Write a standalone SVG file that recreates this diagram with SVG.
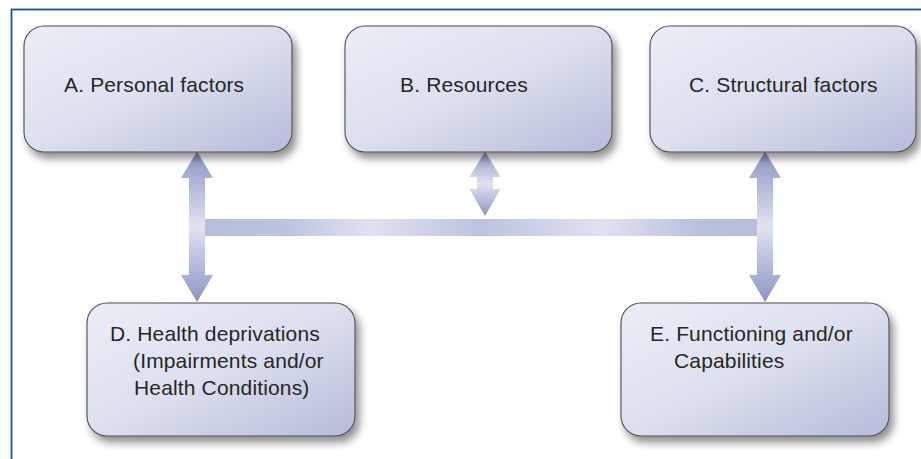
<svg xmlns="http://www.w3.org/2000/svg" width="921" height="459" viewBox="0 0 921 459">
<defs>
<linearGradient id="boxg" x1="0" y1="0" x2="1" y2="1">
<stop offset="0" stop-color="#eceef6"/>
<stop offset="0.5" stop-color="#dcdfee"/>
<stop offset="1" stop-color="#b6bcda"/>
</linearGradient>
<linearGradient id="vg" x1="0" y1="0" x2="0" y2="1">
<stop offset="0" stop-color="#8c95c3"/>
<stop offset="0.18" stop-color="#aab1d6"/>
<stop offset="0.5" stop-color="#e0e3f0"/>
<stop offset="0.82" stop-color="#aab1d6"/>
<stop offset="1" stop-color="#8c95c3"/>
</linearGradient>
<linearGradient id="hg" x1="0" y1="0" x2="1" y2="0">
<stop offset="0" stop-color="#b7bddb"/>
<stop offset="0.14" stop-color="#bcc2df"/>
<stop offset="0.3" stop-color="#dfe2ef"/>
<stop offset="0.5" stop-color="#bec3df"/>
<stop offset="0.72" stop-color="#dfe2ef"/>
<stop offset="0.9" stop-color="#b9bfdc"/>
<stop offset="1" stop-color="#b7bddb"/>
</linearGradient>
<filter id="sh" x="-10%" y="-10%" width="125%" height="135%">
<feGaussianBlur in="SourceAlpha" stdDeviation="4"/>
<feOffset dx="4" dy="6" result="b"/>
<feComponentTransfer><feFuncA type="linear" slope="0.45"/></feComponentTransfer>
<feMerge><feMergeNode/><feMergeNode in="SourceGraphic"/></feMerge>
</filter>
</defs>
<style>
.box{fill:url(#boxg);stroke:#4d4d55;stroke-width:1.1}
.t{font-family:"Liberation Sans",Arial,sans-serif;font-size:21px;letter-spacing:0.15px;fill:#262626}
</style>
<rect x="0" y="0" width="921" height="459" fill="#ffffff"/>
<rect x="11.5" y="9.5" width="920" height="460" fill="none" stroke="#1d4f8c" stroke-width="1.8"/>
<g id="connectors">
<rect x="204" y="219" width="554" height="17" fill="url(#hg)"/>
<polygon fill="url(#vg)" points="197,151.5 213,178 205,178 205,275 213,275 197,302 181,275 189,275 189,178 181,178"/>
<polygon fill="url(#vg)" points="765,151.5 781,178 773,178 773,275 781,275 765,302 749,275 757,275 757,178 749,178"/>
<polygon fill="url(#vg)" points="485,151.5 500.5,177 493,177 493,189 500.5,189 485,216 469.5,189 477,189 477,177 469.5,177"/>
</g>
<g id="nodeA"><rect class="box" filter="url(#sh)" x="24" y="26" width="268" height="126" rx="20"/><text class="t" x="64" y="92">A. Personal factors</text></g>
<g id="nodeB"><rect class="box" filter="url(#sh)" x="345" y="26" width="267" height="126" rx="20"/><text class="t" x="400" y="92">B. Resources</text></g>
<g id="nodeC"><rect class="box" filter="url(#sh)" x="650" y="26" width="266" height="126" rx="20"/><text class="t" x="689" y="92">C. Structural factors</text></g>
<g id="nodeD"><rect class="box" filter="url(#sh)" x="87" y="303" width="268" height="133" rx="20"/><text class="t" x="110" y="341">D. Health deprivations</text><text class="t" x="133" y="368">(Impairments and/or</text><text class="t" x="134" y="395">Health Conditions)</text></g>
<g id="nodeE"><rect class="box" filter="url(#sh)" x="621" y="303" width="268" height="133" rx="20"/><text class="t" x="650" y="341">E. Functioning and/or</text><text class="t" x="674" y="368">Capabilities</text></g>
</svg>
